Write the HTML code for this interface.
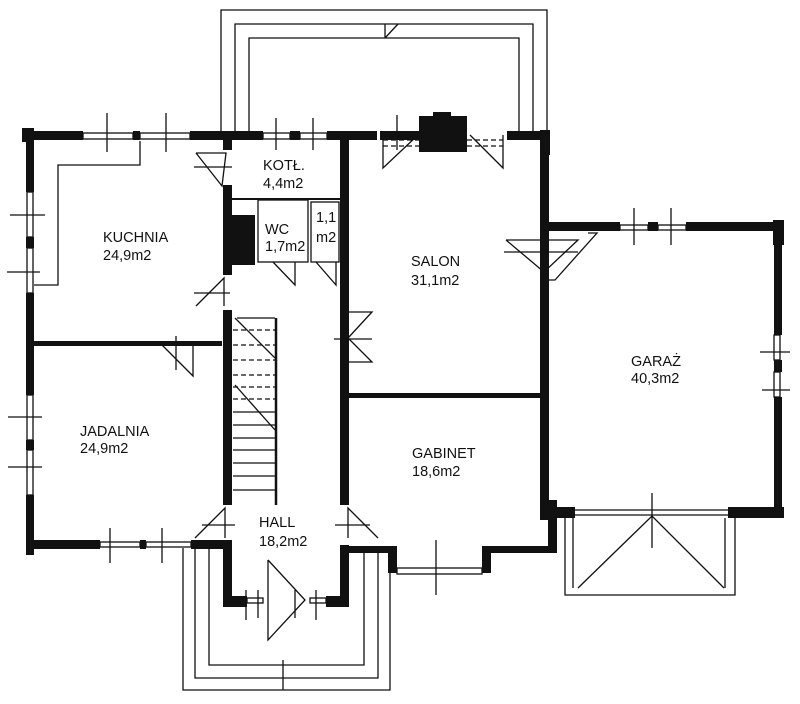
<!DOCTYPE html>
<html><head><meta charset="utf-8"><style>
html,body{margin:0;padding:0;background:#fff;width:800px;height:704px;overflow:hidden}
svg{display:block}
text{font-family:"Liberation Sans",sans-serif;font-size:14.5px;fill:#111}
</style></head><body>
<svg width="800" height="704" viewBox="0 0 800 704" xmlns="http://www.w3.org/2000/svg">
<g fill="none" stroke="#111" stroke-width="1.3">
<polyline points="221,132 221,10 547,10 547,132"/>
<polyline points="235,132 235,24 533,24 533,132"/>
<polyline points="249,132 249,38 519,38 519,132"/>
<polyline points="385,38 398,24"/>
<line x1="385" y1="24" x2="385" y2="38"/>
<polyline points="183,548 183,690 390,690 390,552"/>
<polyline points="195,548 195,678 378,678 378,552"/>
<polyline points="209,548 209,665 364,665 364,552"/>
<line x1="283" y1="660" x2="283" y2="690"/>
<polyline points="565,518 565,595 735,595 735,518"/>
<line x1="573" y1="518" x2="573" y2="588"/>
<line x1="725" y1="518" x2="725" y2="588"/>
<line x1="575" y1="510" x2="728" y2="510"/>
<line x1="575" y1="515" x2="728" y2="515"/>
<polyline points="578,588 652,516 724,588"/>
<line x1="652" y1="493" x2="652" y2="548"/>
<polyline points="34,285 58,285 58,165 140,165 140,141"/>
<rect x="258" y="200" width="50" height="62"/>
<rect x="311" y="202" width="28" height="60"/>
<polyline points="273,262 295,285 295,262"/>
<polyline points="316,262 336,285 336,262"/>
<line x1="237" y1="318" x2="275" y2="318"/>
<line x1="276" y1="318" x2="276" y2="505" stroke-width="2.5"/>
<g stroke-dasharray="5,3">
<line x1="233" y1="330" x2="275" y2="330"/><line x1="233" y1="345" x2="275" y2="345"/>
<line x1="233" y1="360" x2="275" y2="360"/><line x1="233" y1="375" x2="275" y2="375"/>
<line x1="233" y1="387" x2="275" y2="387"/><line x1="233" y1="399" x2="275" y2="399"/>
<line x1="383" y1="140" x2="419" y2="140"/><line x1="467" y1="140" x2="503" y2="140"/>
<line x1="383" y1="146" x2="419" y2="146"/><line x1="467" y1="146" x2="503" y2="146"/>
</g>
<line x1="233" y1="412" x2="275" y2="412"/><line x1="233" y1="425" x2="275" y2="425"/>
<line x1="233" y1="438" x2="275" y2="438"/><line x1="233" y1="450" x2="275" y2="450"/>
<line x1="233" y1="463" x2="275" y2="463"/><line x1="233" y1="476" x2="275" y2="476"/>
<line x1="233" y1="490" x2="275" y2="490"/>
<line x1="235" y1="318" x2="275" y2="358"/>
<line x1="235" y1="385" x2="275" y2="430"/>
<polyline points="196,153 226,153 222,186 196,153"/>
<line x1="194" y1="167" x2="232" y2="167"/>
<polyline points="196,306 224,278 224,306"/><line x1="194" y1="293" x2="230" y2="293"/>
<polyline points="160,343 193,376 193,343"/><line x1="176" y1="336" x2="176" y2="370"/>
<polyline points="348,312 372,312 348,338 372,362 348,362"/><line x1="334" y1="339" x2="372" y2="339"/>
<polyline points="195,538 225,508 225,538"/><line x1="202" y1="525" x2="235" y2="525"/>
<polyline points="378,538 348,508 348,538"/><line x1="335" y1="525" x2="370" y2="525"/>
<polyline points="268,560 268,640 305,600 268,560"/><line x1="258" y1="590" x2="258" y2="618"/><line x1="295" y1="590" x2="295" y2="618"/>
<polyline points="383,135 383,168 418,135"/><line x1="397" y1="115" x2="397" y2="150"/>
<polyline points="503,135 503,168 470,135"/>
<polyline points="506,240 578,240 544,272 506,240"/><line x1="504" y1="252" x2="578" y2="252"/>
<polyline points="588,233 597,233 555,280 548,280"/>
<line x1="107" y1="113" x2="107" y2="152"/><line x1="166" y1="113" x2="166" y2="152"/>
<line x1="276" y1="118" x2="276" y2="150"/><line x1="313" y1="118" x2="313" y2="150"/>
<line x1="10" y1="215" x2="45" y2="215"/><line x1="7" y1="272" x2="40" y2="272"/>
<line x1="8" y1="417" x2="42" y2="417"/><line x1="8" y1="467" x2="42" y2="467"/>
<line x1="110" y1="528" x2="110" y2="563"/><line x1="162" y1="528" x2="162" y2="563"/>
<line x1="436" y1="540" x2="436" y2="595"/>
<line x1="634" y1="208" x2="634" y2="245"/><line x1="671" y1="208" x2="671" y2="245"/>
<line x1="760" y1="352" x2="790" y2="352"/><line x1="762" y1="390" x2="790" y2="390"/>
<line x1="246" y1="590" x2="246" y2="620"/><line x1="316" y1="590" x2="316" y2="620"/>
<rect x="83" y="133" width="50" height="6"/><rect x="140" y="133" width="50" height="6"/>
<rect x="263" y="133" width="27" height="6"/><rect x="300" y="133" width="27" height="6"/>
<rect x="27" y="192" width="6" height="45"/><rect x="27" y="248" width="6" height="45"/>
<rect x="27" y="395" width="6" height="45"/><rect x="27" y="450" width="6" height="45"/>
<rect x="100" y="542" width="40" height="5"/><rect x="146" y="542" width="45" height="5"/>
<rect x="397" y="568" width="85" height="6"/>
<rect x="620" y="225" width="28" height="5"/><rect x="658" y="225" width="28" height="5"/>
<rect x="774" y="335" width="6" height="25"/><rect x="774" y="372" width="6" height="25"/>
<rect x="247" y="598" width="16" height="5"/><rect x="310" y="598" width="16" height="5"/>
</g>
<g fill="#111">
<rect x="22" y="128" width="12" height="14"/>
<rect x="34" y="131" width="49" height="9"/>
<rect x="133" y="131" width="7" height="9"/>
<rect x="190" y="131" width="73" height="9"/>
<rect x="290" y="131" width="10" height="9"/>
<rect x="327" y="131" width="50" height="9"/>
<rect x="345" y="131" width="32" height="9"/>
<rect x="380" y="131" width="40" height="9"/>
<rect x="507" y="131" width="42" height="9"/>
<rect x="540" y="130" width="10" height="25"/>
<rect x="419" y="116" width="48" height="36"/><rect x="433" y="112" width="18" height="10"/>
<rect x="26" y="140" width="8" height="52"/>
<rect x="26" y="237" width="8" height="11"/>
<rect x="26" y="293" width="8" height="102"/>
<rect x="26" y="440" width="8" height="10"/>
<rect x="26" y="495" width="8" height="60"/>
<rect x="26" y="540" width="74" height="9"/>
<rect x="140" y="540" width="6" height="9"/>
<rect x="191" y="540" width="41" height="9"/>
<rect x="33" y="341" width="189" height="5"/>
<rect x="223" y="140" width="9" height="10"/>
<rect x="223" y="185" width="9" height="90"/>
<rect x="223" y="215" width="32" height="50"/>
<rect x="223" y="310" width="9" height="195"/>
<rect x="223" y="545" width="9" height="62"/>
<rect x="223" y="596" width="24" height="11"/>
<rect x="326" y="596" width="23" height="11"/>
<rect x="340" y="140" width="9" height="365"/>
<rect x="340" y="545" width="9" height="62"/>
<rect x="232" y="198" width="108" height="2"/>
<rect x="348" y="393" width="193" height="5"/>
<rect x="540" y="130" width="9" height="390"/>
<rect x="348" y="546" width="40" height="7"/>
<rect x="388" y="546" width="9" height="27"/>
<rect x="482" y="546" width="9" height="27"/>
<rect x="491" y="546" width="58" height="7"/>
<rect x="548" y="500" width="9" height="53"/>
<rect x="549" y="222" width="71" height="9"/>
<rect x="648" y="222" width="10" height="9"/>
<rect x="686" y="222" width="98" height="9"/>
<rect x="773" y="220" width="11" height="25"/>
<rect x="774" y="222" width="8" height="113"/>
<rect x="774" y="360" width="8" height="12"/>
<rect x="774" y="397" width="8" height="120"/>
<rect x="549" y="507" width="26" height="11"/>
<rect x="728" y="507" width="56" height="11"/>
</g>
<text x="263" y="170">KOTŁ.</text><text x="263" y="188">4,4m2</text>
<text x="265" y="234">WC</text><text x="265" y="251">1,7m2</text>
<text x="316" y="222">1,1</text><text x="316" y="242">m2</text>
<text x="103" y="242">KUCHNIA</text><text x="103" y="260">24,9m2</text>
<text x="411" y="266">SALON</text><text x="411" y="285">31,1m2</text>
<text x="631" y="366">GARAŻ</text><text x="631" y="383">40,3m2</text>
<text x="80" y="436">JADALNIA</text><text x="80" y="453">24,9m2</text>
<text x="412" y="458">GABINET</text><text x="412" y="476">18,6m2</text>
<text x="259" y="527">HALL</text><text x="259" y="546">18,2m2</text>
</svg>
</body></html>
